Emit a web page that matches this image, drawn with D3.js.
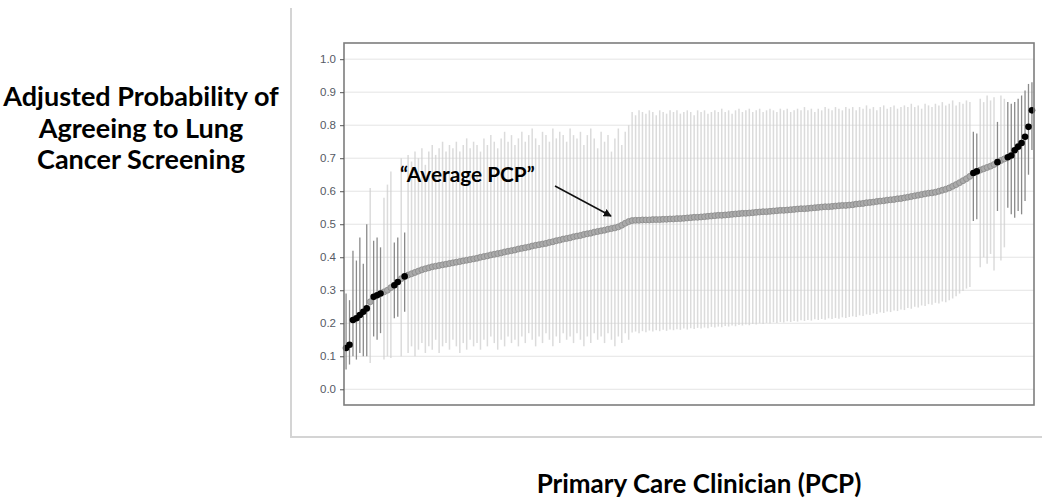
<!DOCTYPE html>
<html>
<head>
<meta charset="utf-8">
<script src="https://cdn.jsdelivr.net/npm/d3@7"></script>
<style>
  html, body { margin: 0; padding: 0; background: #fff; }
  svg { display: block; }
</style>
</head>
<body>
<svg id="chart" width="1050" height="504"></svg>
<script>
// ---- DATA (PCPs sorted by estimate) ----
const estimates = [
  0.125,0.135,0.210,0.215,0.225,0.235,0.245,0.265,0.280,0.285,
  0.290,0.295,0.300,0.308,0.315,0.325,0.335,0.342,0.346,0.350,
  0.354,0.358,0.362,0.365,0.368,0.371,0.373,0.375,0.377,0.379,
  0.381,0.383,0.385,0.387,0.389,0.391,0.393,0.395,0.397,0.400,
  0.402,0.404,0.407,0.409,0.411,0.413,0.416,0.418,0.420,0.422,
  0.425,0.427,0.429,0.431,0.434,0.436,0.438,0.440,0.442,0.445,
  0.447,0.450,0.452,0.455,0.457,0.459,0.462,0.464,0.466,0.469,
  0.471,0.473,0.476,0.478,0.480,0.482,0.485,0.487,0.489,0.492,
  0.497,0.503,0.508,0.511,0.512,0.512,0.513,0.513,0.513,0.514,
  0.514,0.514,0.515,0.515,0.516,0.516,0.517,0.517,0.518,0.519,
  0.520,0.521,0.521,0.522,0.523,0.524,0.525,0.526,0.527,0.527,
  0.528,0.529,0.530,0.531,0.532,0.533,0.533,0.534,0.535,0.536,
  0.537,0.538,0.538,0.539,0.540,0.541,0.542,0.542,0.543,0.544,
  0.545,0.546,0.547,0.547,0.548,0.549,0.550,0.551,0.552,0.553,
  0.553,0.554,0.555,0.556,0.557,0.557,0.558,0.559,0.561,0.562,
  0.563,0.565,0.566,0.567,0.569,0.570,0.571,0.573,0.574,0.575,
  0.577,0.578,0.580,0.582,0.584,0.586,0.588,0.590,0.592,0.594,
  0.595,0.597,0.600,0.603,0.606,0.610,0.615,0.620,0.626,0.632,
  0.638,0.645,0.655,0.660,0.664,0.668,0.672,0.676,0.681,0.688,
  0.693,0.698,0.703,0.708,0.724,0.735,0.746,0.765,0.795,0.845
];
const upperCI = [
  0.29,0.27,0.42,0.39,0.46,0.38,0.50,0.61,0.45,0.46,
  0.43,0.58,0.62,0.66,0.445,0.46,0.70,0.475,0.71,0.69,
  0.72,0.70,0.73,0.68,0.72,0.74,0.71,0.73,0.75,0.72,
  0.74,0.73,0.75,0.72,0.74,0.76,0.73,0.75,0.74,0.72,
  0.76,0.74,0.77,0.75,0.73,0.76,0.78,0.75,0.77,0.74,
  0.76,0.78,0.75,0.77,0.79,0.76,0.74,0.78,0.77,0.75,
  0.79,0.76,0.78,0.77,0.75,0.79,0.77,0.76,0.78,0.74,
  0.77,0.79,0.76,0.73,0.78,0.75,0.77,0.72,0.76,0.79,
  0.74,0.78,0.80,0.84,0.83,0.845,0.84,0.835,0.845,0.84,
  0.83,0.845,0.84,0.835,0.845,0.84,0.845,0.835,0.84,0.845,
  0.84,0.83,0.845,0.84,0.845,0.835,0.84,0.845,0.84,0.85,
  0.84,0.845,0.835,0.845,0.85,0.84,0.845,0.85,0.84,0.845,
  0.85,0.84,0.845,0.85,0.845,0.84,0.85,0.845,0.85,0.84,
  0.845,0.85,0.845,0.855,0.845,0.85,0.84,0.85,0.845,0.855,
  0.85,0.845,0.855,0.85,0.845,0.855,0.85,0.855,0.845,0.855,
  0.85,0.86,0.85,0.855,0.845,0.855,0.86,0.85,0.855,0.86,
  0.85,0.855,0.86,0.855,0.865,0.855,0.86,0.85,0.865,0.86,
  0.855,0.865,0.86,0.87,0.86,0.865,0.875,0.86,0.87,0.865,
  0.875,0.87,0.78,0.775,0.88,0.87,0.89,0.875,0.885,0.81,
  0.89,0.88,0.87,0.865,0.87,0.88,0.89,0.905,0.925,0.93
];
const lowerCI = [
  0.06,0.075,0.10,0.09,0.11,0.10,0.10,0.08,0.16,0.15,
  0.17,0.09,0.10,0.095,0.215,0.22,0.10,0.235,0.11,0.13,
  0.10,0.12,0.14,0.11,0.13,0.12,0.15,0.11,0.13,0.14,
  0.12,0.15,0.13,0.11,0.14,0.12,0.15,0.13,0.14,0.12,
  0.15,0.13,0.16,0.14,0.12,0.15,0.13,0.16,0.14,0.15,
  0.13,0.16,0.14,0.17,0.15,0.13,0.16,0.14,0.17,0.15,
  0.13,0.16,0.14,0.17,0.15,0.16,0.14,0.17,0.15,0.13,
  0.16,0.14,0.17,0.15,0.16,0.14,0.17,0.15,0.13,0.16,
  0.14,0.17,0.15,0.172,0.175,0.170,0.176,0.173,0.178,0.175,
  0.179,0.176,0.180,0.177,0.181,0.179,0.182,0.180,0.184,0.181,
  0.185,0.183,0.186,0.184,0.187,0.185,0.189,0.187,0.190,0.188,
  0.192,0.190,0.193,0.191,0.195,0.193,0.196,0.194,0.198,0.196,
  0.200,0.198,0.201,0.199,0.203,0.201,0.204,0.202,0.206,0.204,
  0.207,0.205,0.209,0.207,0.210,0.208,0.212,0.210,0.213,0.211,
  0.215,0.213,0.216,0.214,0.218,0.216,0.219,0.221,0.219,0.224,
  0.222,0.227,0.225,0.230,0.228,0.233,0.231,0.236,0.234,0.239,
  0.237,0.242,0.240,0.246,0.244,0.250,0.248,0.254,0.252,0.258,
  0.256,0.262,0.260,0.266,0.264,0.270,0.275,0.282,0.290,0.298,
  0.305,0.310,0.51,0.515,0.37,0.40,0.38,0.41,0.36,0.54,
  0.39,0.43,0.55,0.53,0.52,0.54,0.53,0.57,0.65,0.725
];
// ranks whose interval excludes the average PCP (drawn black)
const significantRanks = [1,2,3,4,5,6,7,9,10,11,15,16,18,183,184,190,193,194,195,196,197,198,199,200];
const yTicks = [0.0,0.1,0.2,0.3,0.4,0.5,0.6,0.7,0.8,0.9,1.0];
const yTitleLines = ["Adjusted Probability of", "Agreeing to Lung", "Cancer Screening"];
const xTitle = "Primary Care Clinician (PCP)";
const annotationText = "\u201CAverage PCP\u201D";

// ---- build rows ----
const ranks = estimates.map((_, i) => i + 1);
const sigSet = new Set(significantRanks);
const rows = ranks.map((r, i) => ({ rank: r, est: estimates[i], lo: lowerCI[i], hi: upperCI[i], sig: sigSet.has(r) }));

// ---- layout ----
const svg = d3.select("#chart");
const panel = { left: 344, right: 1034, top: 43, bottom: 405 };

const x = d3.scalePoint().domain(ranks).range([panel.left, panel.right]).padding(0.6);
const y = d3.scaleLinear().domain([-0.0476, 1.049]).range([panel.bottom, panel.top]);

// outer light frame
svg.append("line").attr("x1", 291).attr("x2", 291).attr("y1", 8).attr("y2", 437)
  .attr("stroke", "#d4d4d4").attr("stroke-width", 2);
svg.append("line").attr("x1", 290).attr("x2", 1042).attr("y1", 437).attr("y2", 437)
  .attr("stroke", "#d4d4d4").attr("stroke-width", 2);

// gridlines
svg.append("g").selectAll("line").data(yTicks).join("line")
  .attr("x1", panel.left).attr("x2", panel.right)
  .attr("y1", d => y(d)).attr("y2", d => y(d))
  .attr("stroke", "#e4e4e4").attr("stroke-width", 1);

// confidence intervals
const ciG = svg.append("g");
ciG.selectAll("line.ns").data(rows.filter(d => !d.sig)).join("line")
  .attr("class", "ns")
  .attr("x1", d => x(d.rank)).attr("x2", d => x(d.rank))
  .attr("y1", d => y(d.lo)).attr("y2", d => y(d.hi))
  .attr("stroke", "#cfcfcf").attr("stroke-opacity", 0.75).attr("stroke-width", 1.5);
ciG.selectAll("line.sg").data(rows.filter(d => d.sig)).join("line")
  .attr("class", "sg")
  .attr("x1", d => x(d.rank)).attr("x2", d => x(d.rank))
  .attr("y1", d => y(d.lo)).attr("y2", d => y(d.hi))
  .attr("stroke", "#8a8a8a").attr("stroke-width", 1.3);

// points
const ptG = svg.append("g");
ptG.selectAll("circle.ns").data(rows.filter(d => !d.sig)).join("circle")
  .attr("class", "ns")
  .attr("cx", d => x(d.rank)).attr("cy", d => y(d.est)).attr("r", 3)
  .attr("fill", "#aaaaaa").attr("stroke", "#8a8a8a").attr("stroke-width", 0.8);
ptG.selectAll("circle.sg").data(rows.filter(d => d.sig)).join("circle")
  .attr("class", "sg")
  .attr("cx", d => x(d.rank)).attr("cy", d => y(d.est)).attr("r", 3.3)
  .attr("fill", "#000");

// panel border
svg.append("rect")
  .attr("x", panel.left).attr("y", panel.top)
  .attr("width", panel.right - panel.left).attr("height", panel.bottom - panel.top)
  .attr("fill", "none").attr("stroke", "#7d7d7d").attr("stroke-width", 1.6);

// y axis
const yAxis = svg.append("g").attr("transform", `translate(${panel.left},0)`)
  .call(d3.axisLeft(y).tickValues(yTicks).tickFormat(d3.format(".1f")).tickSize(4).tickPadding(4));
yAxis.select(".domain").remove();
yAxis.selectAll(".tick line").attr("stroke", "#555");
yAxis.selectAll(".tick text").attr("fill", "#555a64")
  .style("font-family", "'Liberation Sans', Arial, sans-serif").style("font-size", "11.5px");

// annotation
svg.append("defs").append("marker")
  .attr("id", "arrow").attr("viewBox", "0 0 10 10").attr("refX", 9).attr("refY", 5)
  .attr("markerWidth", 8).attr("markerHeight", 8).attr("markerUnits", "userSpaceOnUse")
  .attr("orient", "auto")
  .append("path").attr("d", "M0,0 L10,5 L0,10 z").attr("fill", "#111");
svg.append("line").attr("x1", 555).attr("y1", 186).attr("x2", 611).attr("y2", 216)
  .attr("stroke", "#111").attr("stroke-width", 1.5).attr("marker-end", "url(#arrow)");
svg.append("text").attr("x", 400).attr("y", 182)
  .style("font-family", "Lato, 'Open Sans', sans-serif").style("font-weight", 700).style("font-size", "20.8px")
  .attr("fill", "#000").text(annotationText);

// axis titles
const yt = svg.append("text").attr("text-anchor", "middle")
  .style("font-family", "Lato, 'Open Sans', sans-serif").style("font-weight", 700).style("font-size", "27px")
  .attr("fill", "#000");
yt.selectAll("tspan").data(yTitleLines).join("tspan")
  .attr("x", 141).attr("y", (d, i) => 106 + i * 31.7).text(d => d);

svg.append("text").attr("x", 699).attr("y", 493).attr("text-anchor", "middle")
  .style("font-family", "Lato, 'Open Sans', sans-serif").style("font-weight", 700).style("font-size", "26px")
  .attr("fill", "#000").text(xTitle);
</script>
</body>
</html>
